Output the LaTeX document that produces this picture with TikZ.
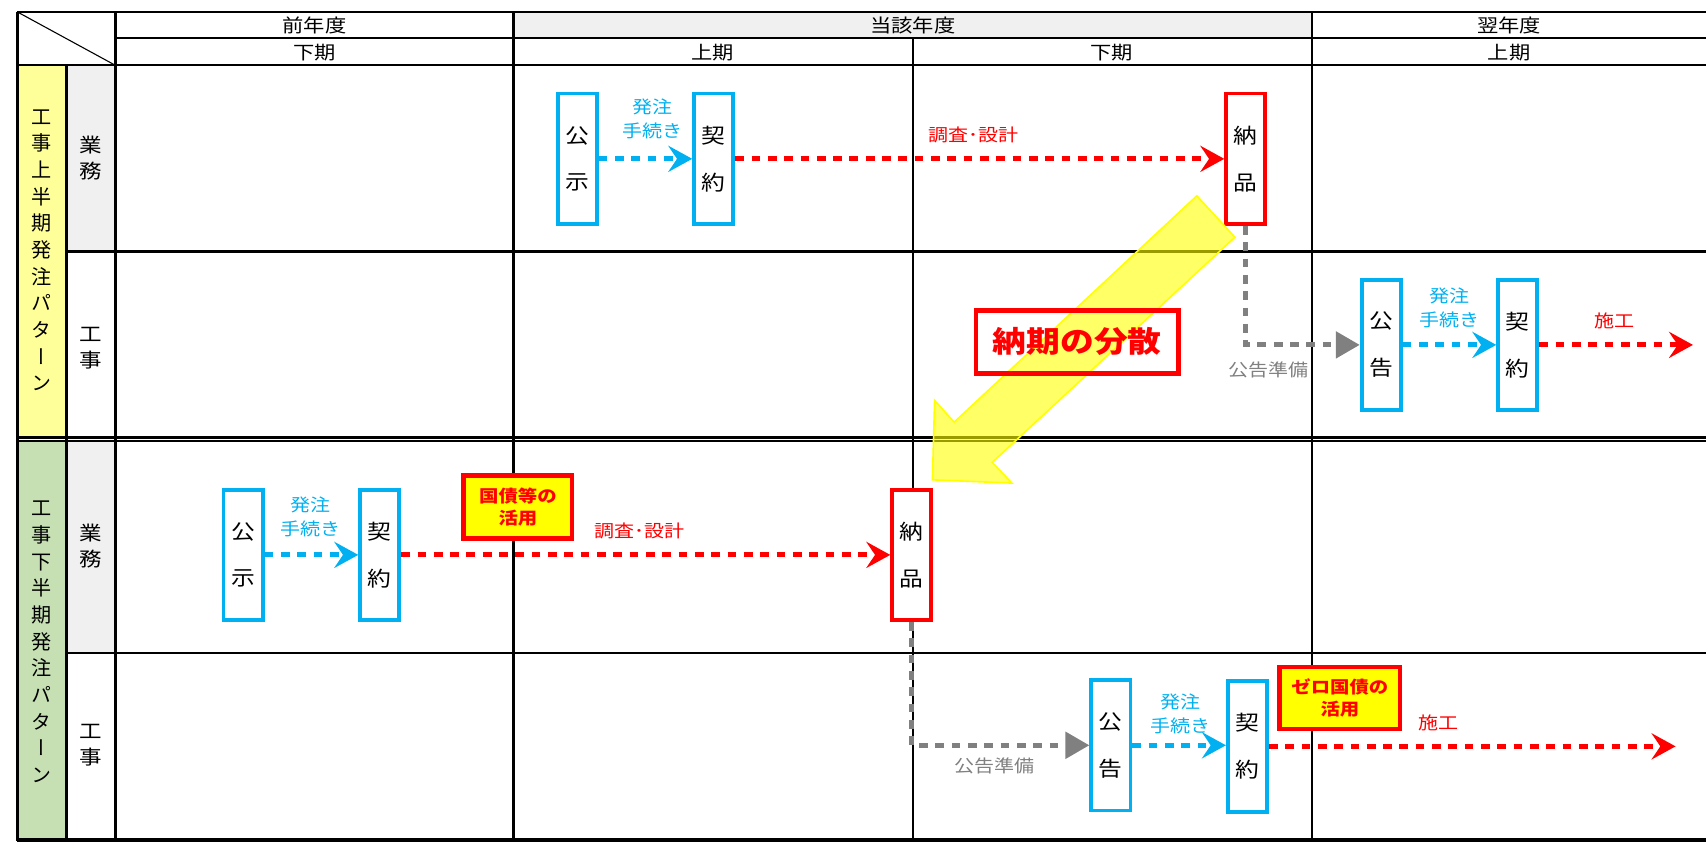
\documentclass[tikz,border=0pt]{standalone}
\usepackage{fontspec}
\newfontfamily\jp[FakeStretch=1.15]{Noto Sans CJK JP}
\newfontfamily\jpv[RawFeature=+vert]{Noto Sans CJK JP}
\usetikzlibrary{arrows.meta}
\definecolor{cblue}{HTML}{00B0F0}
\definecolor{cred}{HTML}{FF0000}
\definecolor{cgray}{HTML}{808080}
\definecolor{lyellow}{HTML}{FFFF99}
\definecolor{lgreen}{HTML}{C6E0B4}
\definecolor{hgray}{HTML}{F0F0F0}
\definecolor{byellow}{HTML}{FFFF00}
\begin{document}
\begin{tikzpicture}[x=1pt,y=-1pt,
  gline/.style={line width=2.2pt,black},
  hdr/.style={font=\jp\fontsize{17}{20}\selectfont,inner sep=0pt},
  vlab/.style={font=\jpv\fontsize{18.5}{24.5}\selectfont,align=center,inner sep=0pt},
  rlab/.style={font=\jp\fontsize{18}{24}\selectfont,align=center,inner sep=0pt},
  bbox/.style={draw=cblue,line width=3.5pt,fill=white,minimum width=36pt,minimum height=120pt,inner sep=0pt,align=center,font=\jp\fontsize{19}{43}\selectfont},
  rbox/.style={bbox,draw=cred},
  notebox/.style={draw=cred,line width=4pt,fill=byellow,inner sep=0pt,align=center,text=cred,font=\jp\bfseries\fontsize{15.5}{20}\selectfont},
  bluelab/.style={text=cblue,align=center,inner sep=0pt,font=\jp\fontsize{16}{22}\selectfont},
  redlab/.style={text=cred,align=center,inner sep=0pt,font=\jp\fontsize{16}{22}\selectfont},
  graylab/.style={text=cgray,align=center,inner sep=0pt,font=\jp\fontsize{16}{22}\selectfont},
  bluearr/.style={draw=cblue,line width=4.5pt,dash pattern=on 8pt off 7pt,-{Stealth[length=22pt,width=24pt,inset=8pt]}},
  redarr/.style={bluearr,draw=cred},
  grayarr/.style={draw=cgray,line width=4.5pt,dash pattern=on 8pt off 7pt,-{Triangle[length=22pt,width=24pt]}},
]
\useasboundingbox (0,0) rectangle (1568,775);
% fills
\fill[lyellow] (16,60) rectangle (61,402);
\fill[lgreen] (16,405) rectangle (61,772);
\fill[hgray] (61,60) rectangle (106,231);
\fill[hgray] (61,405) rectangle (106,600);
\fill[hgray] (472,11) rectangle (1206,35);
% grid lines
\draw[gline] (16,11) -- (1568,11);
\draw[gline] (106,35) -- (1568,35);
\draw[gline] (16,60) -- (1568,60);
\draw[gline] (61,231) -- (1568,231);
\draw[gline] (16,402) -- (1568,402);
\draw[gline] (16,405.5) -- (1568,405.5);
\draw[gline] (61,600) -- (1568,600);
\draw[line width=3pt] (16,772) -- (1568,772);
\draw[gline] (16,11) -- (16,773);
\draw[gline] (61,60) -- (61,773);
\draw[gline] (106,11) -- (106,773);
\draw[gline] (472,11) -- (472,773);
\draw[gline] (839,35) -- (839,773);
\draw[gline] (1206,11) -- (1206,773);
\draw[line width=1pt] (16,11) -- (106,60);
% headers
\node[hdr] (h1) at (289,23) {前年度};
\node[hdr] (h2) at (839,23) {当該年度};
\node[hdr] (h3) at (1387,23) {翌年度};
\node[hdr] (s1) at (289,48) {下期};
\node[hdr] (s2) at (655,48) {上期};
\node[hdr] (s3) at (1022,48) {下期};
\node[hdr] (s4) at (1387,48) {上期};
% left labels
\node[vlab] (p1) at (38.5,230) {工\\事\\上\\半\\期\\発\\注\\パ\\タ\\ー\\ン};
\node[vlab] (p2) at (38.5,590) {工\\事\\下\\半\\期\\発\\注\\パ\\タ\\ー\\ン};
\node[rlab] (r1) at (83.5,145) {業\\務};
\node[rlab] (r2) at (83.5,320) {工\\事};
\node[rlab] (r3) at (83.5,502) {業\\務};
\node[rlab] (r4) at (83.5,685) {工\\事};
% top pattern, 業務
\node[bbox] (koji1) at (530.5,146) {公\\示};
\node[bbox] (kei1) at (656,146) {契\\約};
\node[rbox] (nohin1) at (1145,146) {納\\品};
\draw[bluearr] (koji1.east) -- (kei1.west);
\node[bluelab] (t1) at (600,109) {発注\\手続き};
\draw[redarr] (kei1.east) -- (nohin1.west);
\node[redlab] (c1) at (895,124) {調査･設計};
% top pattern, 工事
\node[bbox] (kok1) at (1269.5,317) {公\\告};
\node[bbox] (kei2) at (1395,317) {契\\約};
\coordinate (end1) at (1556,317);
\draw[grayarr] (nohin1.south) |- (kok1.west);
\node[graylab] (g1) at (1166,340) {公告準備};
\draw[bluearr] (kok1.east) -- (kei2.west);
\node[bluelab] (t2) at (1332,283) {発注\\手続き};
\draw[redarr] (kei2.east) -- (kei2.east -| end1);
\node[redlab] (w1) at (1484,295) {施工};
% bottom pattern, 業務
\node[bbox] (koji2) at (223.5,510) {公\\示};
\node[bbox] (kei3) at (349,510) {契\\約};
\node[rbox] (nohin2) at (838,510) {納\\品};
\draw[bluearr] (koji2.east) -- (kei3.west);
\node[bluelab] (t3) at (285,475) {発注\\手続き};
\draw[redarr] (kei3.east) -- (nohin2.west);
\node[redlab] (c2) at (588,488) {調査･設計};
\node[notebox,minimum width=100pt,minimum height=58pt] (n1) at (476,466) {国債等の\\活用};
% bottom pattern, 工事
\node[bbox] (kok2) at (1021,685) {公\\告};
\node[bbox] (kei4) at (1146.5,686) {契\\約};
\coordinate (end2) at (1540,686);
\draw[grayarr] (nohin2.south) |- (kok2.west);
\node[graylab] (g2) at (914,704) {公告準備};
\draw[bluearr] (kok2.east) -- (kok2.east -| kei4.west);
\node[bluelab] (t4) at (1085,656) {発注\\手続き};
\draw[redarr] (kei4.east) -- (kei4.east -| end2);
\node[redlab] (w2) at (1322,664) {施工};
\node[notebox,minimum width=111pt,minimum height=57pt] (n2) at (1231.5,641.5) {ゼロ国債の\\活用};
% big arrow
\draw[byellow,line width=1.5pt,fill=byellow,fill opacity=0.6]
  (1100,180) -- (1135,218) -- (912,425) -- (930,444) -- (857,441) -- (859,368) -- (877,388) -- cycle;
\node[draw=cred,line width=4.5pt,minimum width=186pt,minimum height=58pt,text=cred,inner sep=0pt,font=\jp\bfseries\fontsize{27}{30}\selectfont] (bunsan) at (990,314) {納期の分散};
\end{tikzpicture}
\end{document}
